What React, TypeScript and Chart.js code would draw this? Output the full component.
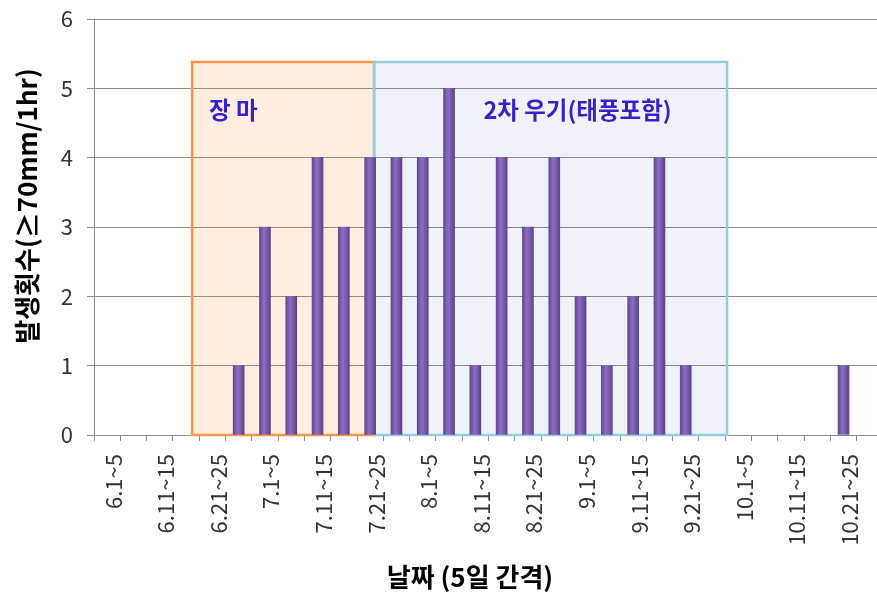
import React, { useEffect, useRef } from "react";
import { Chart, registerables } from "chart.js";

Chart.register(...registerables);

// categories (5-day intervals)
const categories = [
  "6.1~5", "6.6~10", "6.11~15", "6.16~20", "6.21~25", "6.26~30",
  "7.1~5", "7.6~10", "7.11~15", "7.16~20", "7.21~25", "7.26~31",
  "8.1~5", "8.6~10", "8.11~15", "8.16~20", "8.21~25", "8.26~31",
  "9.1~5", "9.6~10", "9.11~15", "9.16~20", "9.21~25", "9.26~30",
  "10.1~5", "10.6~10", "10.11~15", "10.16~20", "10.21~25", "10.26~31",
];

// occurrence counts (>= 70mm/1hr)
const counts = [
  0, 0, 0, 0, 0, 1,
  3, 2, 4, 3, 4, 4,
  4, 5, 1, 4, 3, 4,
  2, 1, 2, 4, 1, 0,
  0, 0, 0, 0, 1, 0,
];

const yTicks = [0, 1, 2, 3, 4, 5, 6];

// shaded periods (in category-index units, y in value units)
const periodNames = ["장 마", "2차 우기(태풍포함)"];
const periodFrom = [3.23, 10.15];
const periodTo = [10.15, 23.57];
const periodTop = [5.38, 5.38];

const yTitle = "발생횟수(≥70mm/1hr)";
const xTitle = "날짜 (5일 간격)";

const FONT = "'Noto Sans CJK KR', 'Noto Sans', sans-serif";

export default function App() {
  const ref = useRef<HTMLCanvasElement | null>(null);

  useEffect(() => {
    if (!ref.current) return;

    const periodPlugin = {
      id: "periods",
      beforeDatasetsDraw(chart: any) {
        const { ctx, scales } = chart;
        const x = scales.x;
        const y = scales.y;
        const fills = ["rgba(247,150,70,0.16)", "rgba(75,120,190,0.09)"];
        const strokes = ["#F79646", "#93CDDA"];
        for (let i = 0; i < periodNames.length; i++) {
          const x0 = x.getPixelForValue(periodFrom[i]);
          const x1 = x.getPixelForValue(periodTo[i]);
          const y0 = y.getPixelForValue(periodTop[i]);
          const y1 = y.getPixelForValue(0);
          ctx.save();
          ctx.fillStyle = fills[i];
          ctx.fillRect(x0, y0, x1 - x0, y1 - y0);
          ctx.restore();
        }
        for (let i = 0; i < periodNames.length; i++) {
          const x0 = x.getPixelForValue(periodFrom[i]);
          const x1 = x.getPixelForValue(periodTo[i]);
          const y0 = y.getPixelForValue(periodTop[i]);
          const y1 = y.getPixelForValue(0);
          ctx.save();
          ctx.strokeStyle = strokes[i];
          ctx.lineWidth = 2.5;
          ctx.strokeRect(x0, y0, x1 - x0, y1 - y0);
          ctx.restore();
        }
      },
      afterDatasetsDraw(chart: any) {
        const { ctx, scales } = chart;
        const x = scales.x;
        const y = scales.y;
        ctx.save();
        ctx.fillStyle = "#3B1FC8";
        ctx.font = `bold 23.5px ${FONT}`;
        ctx.textBaseline = "middle";
        const ty = y.getPixelForValue(4.69);
        ctx.textAlign = "left";
        ctx.fillText(periodNames[0], x.getPixelForValue(periodFrom[0]) + 17, ty);
        ctx.textAlign = "center";
        const cx = (x.getPixelForValue(periodFrom[1]) + x.getPixelForValue(periodTo[1])) / 2 + 27;
        ctx.fillText(periodNames[1], cx, ty);
        ctx.restore();
      },
      afterDraw(chart: any) {
        const { ctx } = chart;
        ctx.save();
        ctx.fillStyle = "#000";
        ctx.font = `bold 26px ${FONT}`;
        ctx.textAlign = "center";
        ctx.textBaseline = "middle";
        ctx.fillText(xTitle, 470, 577);
        ctx.translate(27, 206);
        ctx.rotate(-Math.PI / 2);
        ctx.fillText(yTitle, 0, 0);
        ctx.restore();
      },
    };

    const chart = new Chart(ref.current, {
      type: "bar",
      data: {
        labels: categories,
        datasets: [
          {
            data: counts,
            barThickness: 11,
            borderWidth: 0,
            backgroundColor: (c: any) => {
              const solid = "#7759A8";
              if (c.type !== "data") return solid;
              if (!c.raw) return "rgba(0,0,0,0)";
              const xs = c.chart.scales && c.chart.scales.x;
              if (!xs) return solid;
              const px = xs.getPixelForValue(c.dataIndex);
              if (!Number.isFinite(px)) return solid;
              const g = c.chart.ctx.createLinearGradient(px - 5.5, 0, px + 5.5, 0);
              g.addColorStop(0, "#62488F");
              g.addColorStop(0.4, "#8C6EC2");
              g.addColorStop(0.6, "#8061B6");
              g.addColorStop(1, "#5D4288");
              return g;
            },
          },
        ],
      },
      options: {
        animation: false,
        responsive: false,
        maintainAspectRatio: false,
        layout: { padding: { top: 19, right: 7, left: 0, bottom: 0 } },
        plugins: {
          legend: { display: false },
          tooltip: { enabled: false },
          title: { display: false },
        },
        scales: {
          x: {
            offset: true,
            grid: {
              offset: true,
              drawOnChartArea: false,
              drawTicks: true,
              tickLength: 6,
              color: "#8A8A8A",
            },
            border: { color: "#8A8A8A" },
            ticks: {
              autoSkip: false,
              minRotation: 90,
              maxRotation: 90,
              padding: 13,
              labelOffset: 6,
              color: "#333333",
              font: { family: FONT, size: 22 },
              callback: (_v: any, i: number) => (i % 2 === 0 ? categories[i] : ""),
            },
            afterFit: (s: any) => {
              s.height = 160;
              s.paddingLeft = 0;
              s.paddingRight = 0;
            },
          },
          y: {
            min: yTicks[0],
            max: yTicks[yTicks.length - 1],
            grid: {
              color: "#8A8A8A",
              tickLength: 7,
            },
            border: { color: "#8A8A8A" },
            ticks: {
              stepSize: 1,
              padding: 14,
              color: "#333333",
              font: { family: FONT, size: 22 },
            },
            afterFit: (s: any) => {
              s.width = 94;
              s.paddingTop = 0;
              s.paddingBottom = 0;
            },
          },
        },
      },
      plugins: [periodPlugin],
    });

    return () => chart.destroy();
  }, []);

  return (
    <div
      style={{
        position: "fixed",
        left: 0,
        top: 0,
        width: 877,
        height: 595,
        overflow: "hidden",
        background: "#fff",
      }}
    >
      <canvas ref={ref} width={890} height={595} style={{ display: "block", width: 890, height: 595 }} />
    </div>
  );
}
